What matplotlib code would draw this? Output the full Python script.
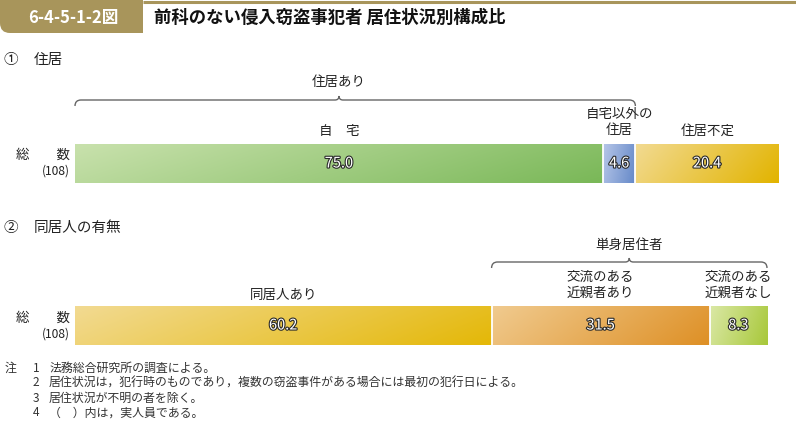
import matplotlib
matplotlib.use("Agg")
import matplotlib.pyplot as plt
import matplotlib.patheffects as pe
from matplotlib.path import Path
from matplotlib.patches import PathPatch, FancyBboxPatch
import numpy as np

plt.rcParams['font.family'] = ['Noto Sans CJK JP', 'DejaVu Sans']

# ---- data ----
fig_no = "6-4-5-1-2図"
title = "前科のない侵入窃盗事犯者 居住状況別構成比"
sec1 = "住居"
sec2 = "同居人の有無"
total_label = "総　　数"
total_n = "(108)"

cats1 = ["自　宅", "自宅以外の\n住居", "住居不定"]
vals1 = [75.0, 4.6, 20.4]
group1_label = "住居あり"
group1_idx = (0, 1)

cats2 = ["同居人あり", "交流のある\n近親者あり", "交流のある\n近親者なし"]
vals2 = [60.2, 31.5, 8.3]
group2_label = "単身居住者"
group2_idx = (1, 2)

notes = [
    ("注", "1", "法務総合研究所の調査による。"),
    ("", "2", "居住状況は，犯行時のものであり，複数の窃盗事件がある場合には最初の犯行日による。"),
    ("", "3", "居住状況が不明の者を除く。"),
    ("", "4", "（　）内は，実人員である。"),
]

grad1 = [((200, 225, 172), (122, 184, 88)),
         ((182, 198, 232), (100, 136, 200)),
         ((242, 218, 145), (226, 180, 0))]
grad2 = [((242, 218, 145), (228, 184, 8)),
         ((240, 202, 142), (222, 144, 38)),
         ((218, 232, 165), (168, 200, 58))]

W, H = 796, 424
fig = plt.figure(figsize=(W / 100, H / 100), dpi=100)

# overlay in pixel coordinates (y down)
ov = fig.add_axes([0, 0, 1, 1])
ov.set_xlim(0, W)
ov.set_ylim(H, 0)
ov.axis('off')
ov.set_zorder(0)


def px_axes(l, t, r, b):
    return fig.add_axes([l / W, 1 - b / H, (r - l) / W, (b - t) / H])


def gradient_img(c0, c1):
    nx, ny = 64, 16
    xx, yy = np.meshgrid(np.linspace(0, 1, nx), np.linspace(0, 1, ny))
    t = 0.82 * xx + 0.18 * yy  # yy: 0 at top (origin upper)
    t = (t - t.min()) / (t.max() - t.min())
    c0 = np.array(c0) / 255.0
    c1 = np.array(c1) / 255.0
    img = c0[None, None, :] * (1 - t[..., None]) + c1[None, None, :] * t[..., None]
    return img


def draw_bar(ax, vals, grads):
    ax.set_xlim(0, 100)
    ax.set_ylim(0, 1)
    ax.axis('off')
    lefts = np.concatenate([[0], np.cumsum(vals)[:-1]])
    ax.barh(0.5, vals, left=lefts, height=1.0, facecolor='none',
            edgecolor='none', linewidth=0, zorder=0)
    for v, l, (c0, c1) in zip(vals, lefts, grads):
        ax.imshow(gradient_img(c0, c1), extent=[l, l + v, 0, 1], aspect='auto',
                  origin='upper', interpolation='bilinear', zorder=1)
    ax.vlines(lefts[1:], 0, 1, colors='white', linewidth=1.3, zorder=2)
    ax.set_xlim(0, 100)
    ax.set_ylim(0, 1)
    for v, l in zip(vals, lefts):
        ax.text(l + v / 2, 0.5, f"{v:.1f}", ha='center', va='center',
                fontsize=10.5, color='white', zorder=3,
                path_effects=[pe.withStroke(linewidth=1.6, foreground='#2a2a2a')])
    return lefts


def to_px(ax, v):
    return ax.transData.transform((v, 0))[0]


def bracket(x0, x1, y, xm=None):
    if xm is None:
        xm = (x0 + x1) / 2
    r = 6
    verts = [(x0, y + 6), (x0, y), (x0 + r, y), (xm - 4, y), (xm, y), (xm, y - 4),
             (xm, y), (xm + 4, y), (x1 - r, y), (x1, y), (x1, y + 6)]
    codes = [Path.MOVETO, Path.CURVE3, Path.CURVE3, Path.LINETO, Path.CURVE3, Path.CURVE3,
             Path.CURVE3, Path.CURVE3, Path.LINETO, Path.CURVE3, Path.CURVE3]
    ov.add_patch(PathPatch(Path(verts, codes), facecolor='none',
                           edgecolor='#666666', linewidth=1.0))


# ---- header ----
gold = '#a8955b'
ov.add_patch(FancyBboxPatch((0, 0), 143, 33, boxstyle="round,pad=0,rounding_size=10",
                            facecolor=gold, edgecolor='none'))
ov.add_patch(plt.Rectangle((0, 0), 20, 20, facecolor=gold, edgecolor='none'))
ov.add_patch(plt.Rectangle((120, 0), 23, 33, facecolor=gold, edgecolor='none'))
ov.plot([143, W], [2, 2], color=gold, linewidth=2.2, solid_capstyle='butt')
ov.text(73, 18, fig_no, ha='center', va='center', fontsize=12,
        fontweight='bold', color='white')
ov.text(154, 18, title, ha='left', va='center', fontsize=12.5,
        fontweight='bold', color='#111111')

# ---- section 1 ----
ov.text(4, 60, "①", ha='left', va='center', fontsize=10.5, color='#222222')
ov.text(34, 60, sec1, ha='left', va='center', fontsize=10.5, color='#222222')

ax1 = px_axes(75, 144, 779, 183)
lefts1 = draw_bar(ax1, vals1, grad1)

label_y1 = [131, 122, 131]
for c, v, l, ly in zip(cats1, vals1, lefts1, label_y1):
    cx = to_px(ax1, l + v / 2)
    ov.text(cx, ly, c, ha='center', va='center', fontsize=9.7,
            color='#222222', linespacing=1.2)

g0 = to_px(ax1, lefts1[group1_idx[0]])
g1 = to_px(ax1, lefts1[group1_idx[1]] + vals1[group1_idx[1]])
gm = to_px(ax1, lefts1[0] + vals1[0] / 2)
bracket(g0, g1, 100, gm)
ov.text(gm, 82, group1_label, ha='center', va='center', fontsize=9.7, color='#222222')

ov.text(70, 155, total_label, ha='right', va='center', fontsize=9.7, color='#222222')
ov.text(70, 171, total_n, ha='right', va='center', fontsize=8.7, color='#222222')

# ---- section 2 ----
ov.text(4, 228, "②", ha='left', va='center', fontsize=10.5, color='#222222')
ov.text(34, 228, sec2, ha='left', va='center', fontsize=10.5, color='#222222')

ax2 = px_axes(75, 306, 767, 345)
lefts2 = draw_bar(ax2, vals2, grad2)

label_y2 = [295, 285, 285]
for c, v, l, ly in zip(cats2, vals2, lefts2, label_y2):
    cx = to_px(ax2, l + v / 2)
    ov.text(cx, ly, c, ha='center', va='center', fontsize=9.7,
            color='#222222', linespacing=1.2)

h0 = to_px(ax2, lefts2[group2_idx[0]])
h1 = to_px(ax2, lefts2[group2_idx[1]] + vals2[group2_idx[1]])
bracket(h0, h1, 262)
ov.text((h0 + h1) / 2, 245, group2_label, ha='center', va='center',
        fontsize=9.7, color='#222222')

ov.text(70, 318, total_label, ha='right', va='center', fontsize=9.7, color='#222222')
ov.text(70, 334, total_n, ha='right', va='center', fontsize=8.7, color='#222222')

# ---- notes ----
for i, (a, n, t) in enumerate(notes):
    y = 368 + i * 15
    if a:
        ov.text(5, y, a, ha='left', va='center', fontsize=8.6, color='#333333')
    ov.text(36, y, n, ha='center', va='center', fontsize=8.6, color='#333333')
    ov.text(49, y, t, ha='left', va='center', fontsize=8.6, color='#333333')

fig.savefig("out.png", dpi=100)
